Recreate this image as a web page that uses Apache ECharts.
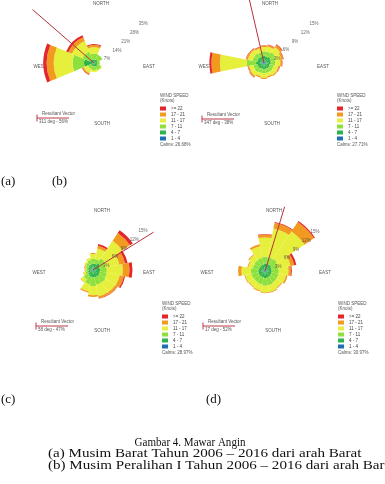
<!DOCTYPE html>
<html>
<head>
<meta charset="utf-8">
<script src="https://cdn.jsdelivr.net/npm/echarts@6/dist/echarts.min.js"></script>
<style>
html,body{margin:0;padding:0;background:#fff;}
#main{width:385px;height:484px;}
</style>
</head>
<body>
<div id="main"></div>
<script>
var dirs8 = ['N','NE','E','SE','S','SW','W','NW'];
var dirs16 = ['N','NNE','NE','ENE','E','ESE','SE','SSE','S','SSW','SW','WSW','W','WNW','NW','NNW'];
var speedNames = ['1 - 4','4 - 7','7 - 11','11 - 17','17 - 21','>= 22'];
var speedColors = ['#1f6fb5','#2db34a','#8ee03c','#e6f03c','#f29a1f','#e3262b'];

// (a) musim barat, 8 arah, persen
var a14   = [0.2,0.3,0.3,0.3,0.3,0.3,0.4,0.3];
var a47   = [1.8,1.9,1.4,1.8,1.7,1.5,5.3,2.2];
var a711  = [3.3,3.0,1.6,2.4,2.0,2.0,6.4,4.5];
var a1117 = [3.6,0,0,0.5,1.0,2.5,10.6,6.5];
var a1721 = [1.2,0,0,0,0,0.7,4.0,2.2];
var a22   = [0.6,0,0,0,0,0.3,1.9,1.3];

// (b) peralihan I
var b14   = [0.4,0.4,0.4,0.4,0.4,0.3,0.3,0.3,0.3,0.3,0.4,0.4,0.4,0.4,0.4,0.4];
var b47   = [1.3,1.2,1.4,1.3,1.2,1.1,1.2,1.1,1.2,1.1,1.2,1.2,1.5,1.3,1.3,1.2];
var b711  = [1.1,1.2,1.3,1.2,1.1,1.0,1.0,1.0,1.0,1.0,1.1,1.0,2.2,1.1,1.1,1.0];
var b1117 = [1.0,1.2,1.5,1.3,1.2,1.1,1.0,0.9,1.0,0.9,1.0,1.0,6.4,1.1,1.1,1.0];
var b1721 = [0.3,0.4,0.6,0.5,0.4,0.3,0.3,0.3,0.3,0.3,0.4,0.3,2.0,0.4,0.3,0.3];
var b22   = [0.1,0.1,0.2,0.1,0.1,0.1,0,0,0,0,0.1,0.1,0.5,0.1,0.1,0.1];

// (c)
var c14   = [0.3,0.3,0.4,0.3,0.3,0.3,0.3,0.3,0.3,0.3,0.2,0.2,0.2,0.2,0.2,0.2];
var c47   = [1.2,1.2,1.6,1.3,1.4,1.4,1.5,1.5,1.5,1.4,1.2,1.0,0.9,1.0,1.1,1.2];
var c711  = [1.2,1.2,1.4,1.5,1.6,1.7,1.8,1.8,2.0,1.8,1.3,0.7,0.5,0.6,0.8,1.0];
var c1117 = [1.3,2.5,5.0,3.3,3.8,3.1,2.8,2.8,2.2,1.7,0.8,0.4,0.2,0.2,0.4,0.6];
var c1721 = [0,0.7,2.2,1.4,1.6,1.0,0.6,0.5,0.4,0.3,0.1,0.1,0.2,0.2,0,0];
var c22   = [0,0.4,0.8,0.6,0.7,0.3,0.1,0.1,0,0,0,0,0,0,0,0];

// (d)
var d14   = [0.4,0.4,0.4,0.3,0.3,0.3,0.3,0.3,0.3,0.3,0.3,0.3,0.3,0.3,0.3,0.3];
var d47   = [1.4,1.4,1.4,1.3,1.3,1.3,1.3,1.4,1.4,1.3,1.3,1.3,1.3,1.2,1.2,1.3];
var d711  = [1.6,1.6,1.7,1.6,1.7,1.7,1.7,1.8,1.8,1.7,1.6,1.7,1.8,1.5,1.6,1.6];
var d1117 = [4.6,6.9,7.8,3.0,2.3,1.8,1.5,1.6,1.6,1.5,1.4,1.5,2.2,1.1,1.5,2.8];
var d1721 = [0.7,1.4,2.7,0.9,0.6,0.4,0.2,0.2,0.2,0.2,0.2,0.2,0.8,0.2,0.2,0.5];
var d22   = [0.1,0.2,0.3,0.5,0.2,0,0,0,0,0,0,0,0,0,0,0];

var ringsA = [7,14,21,28,35];
var ringsB = [3,6,9,12,15];
var calms = ['Calms: 26.68%','Calms: 27.71%','Calms: 28.97%','Calms: 30.97%'];
var vecDir = [311,347,58,17];
var vecLen = [46,16,17,16];
var vecText = ['311 deg - 56%','347 deg - 38%','58 deg - 47%','17 deg - 52%'];
var panelLabels = ['(a)','(b)','(c)','(d)'];

var panels = [
  {dirs:dirs8, data:[a14,a47,a711,a1117,a1721,a22], rings:ringsA, max:35, c:[94,63], r:62,
   north:[101,4], south:[102,124], west:[40,67], east:[149,67], leg:[160,106], vec:[37,118]},
  {dirs:dirs16, data:[b14,b47,b711,b1117,b1721,b22], rings:ringsB, max:15, c:[264,63], r:63,
   north:[270,4], south:[272,124], west:[205,67], east:[323,67], leg:[337,106], vec:[202,119]},
  {dirs:dirs16, data:[c14,c47,c711,c1117,c1721,c22], rings:ringsB, max:15, c:[93,270], r:63,
   north:[102,211], south:[102,331], west:[39,273], east:[149,273], leg:[162,314], vec:[36,326]},
  {dirs:dirs16, data:[d14,d47,d711,d1117,d1721,d22], rings:ringsB, max:15, c:[265,271], r:63,
   north:[274,211], south:[273,331], west:[207,273], east:[325,273], leg:[338,314], vec:[203,326]}
];

var tiny = {fontSize:4.5, fontFamily:'Liberation Sans', fill:'#555'};
function txt(x, y, s, align, extra, sx){
  var st = {text:s, align:align || 'center', verticalAlign:'middle'};
  for (var k in tiny) st[k] = tiny[k];
  if (extra) for (var k2 in extra) st[k2] = extra[k2];
  return {type:'text', x:x, y:y, scaleX:sx || 1, style:st, silent:true};
}

var hidden = {axisLine:{show:false}, axisTick:{show:false}, axisLabel:{show:false}, splitLine:{show:false}, splitArea:{show:false}};
function ax(o){ for (var k in hidden) o[k] = hidden[k]; return o; }

var option = {animation:false, polar:[], angleAxis:[], radiusAxis:[], series:[], legend:[], graphic:[]};

panels.forEach(function(p, i){
  var pi = 2*i;
  option.polar.push({center:p.c, radius:p.r});
  option.angleAxis.push(ax({polarIndex:pi, type:'category', data:p.dirs, startAngle:90 + 180/p.dirs.length, clockwise:true}));
  option.radiusAxis.push(ax({polarIndex:pi, type:'value', min:0, max:p.max}));
  // polar kedua untuk resultant vector
  option.polar.push({center:p.c, radius:p.r*2});
  option.angleAxis.push(ax({polarIndex:pi+1, type:'value', min:0, max:360, startAngle:90, clockwise:true}));
  option.radiusAxis.push(ax({polarIndex:pi+1, type:'value', min:0, max:p.max*2}));

  speedNames.forEach(function(name, k){
    option.series.push({type:'bar', name:name, coordinateSystem:'polar', polarIndex:pi, stack:'s'+i,
      data:p.data[k], barCategoryGap:'0%', silent:true, itemStyle:{color:speedColors[k]}});
  });
  var ne = p.dirs.indexOf('NE');
  option.series.push({type:'scatter', coordinateSystem:'polar', polarIndex:pi, symbolSize:0, silent:true,
    data:p.rings.map(function(v){ return [v, ne]; }),
    label:{show:true, position:'inside', align:'left', offset:[1,5], fontSize:4.5, fontFamily:'Liberation Sans', color:'#444',
      formatter:function(q){ return q.value[0] + '%'; }}});
  option.series.push({type:'line', coordinateSystem:'polar', polarIndex:pi+1, symbol:'none', silent:true,
    data:[[0, vecDir[i]],[vecLen[i], vecDir[i]]], lineStyle:{color:'#b5323f', width:1}});

  option.legend.push({left:p.leg[0], top:p.leg[1], orient:'vertical', padding:0, itemWidth:6, itemHeight:4, itemGap:1,
    icon:'rect', selectedMode:false, data:speedNames.slice().reverse(),
    textStyle:{fontSize:4.5, fontFamily:'Liberation Sans', color:'#444'}});

  option.graphic.push(txt(p.north[0], p.north[1], 'NORTH'));
  option.graphic.push(txt(p.south[0], p.south[1], 'SOUTH'));
  option.graphic.push(txt(p.west[0], p.west[1], 'WEST'));
  option.graphic.push(txt(p.east[0], p.east[1], 'EAST'));
  option.graphic.push(txt(p.leg[0], p.leg[1]-10, 'WIND SPEED', 'left'));
  option.graphic.push(txt(p.leg[0], p.leg[1]-5, '(Knots)', 'left'));
  option.graphic.push(txt(p.leg[0], p.leg[1]+39, calms[i], 'left'));
  var vx = p.vec[0], vy = p.vec[1];
  option.graphic.push(txt(vx+5, vy-4, 'Resultant Vector', 'left'));
  option.graphic.push(txt(vx+2, vy+4, vecText[i], 'left'));
  option.graphic.push({type:'line', silent:true, shape:{x1:vx, y1:vy, x2:vx+32, y2:vy}, style:{stroke:'#c0394a', lineWidth:1}});
  option.graphic.push({type:'line', silent:true, shape:{x1:vx, y1:vy-3.5, x2:vx, y2:vy+3.5}, style:{stroke:'#c0394a', lineWidth:1}});
});

var serif = {fontFamily:'Liberation Serif', fill:'#111'};
function cap(x, y, s, align, size, sx){
  return txt(x, y, s, align, {fontSize:size, fontFamily:serif.fontFamily, fill:serif.fill}, sx);
}
option.graphic.push(cap(1, 182, panelLabels[0], 'left', 13));
option.graphic.push(cap(52, 182, panelLabels[1], 'left', 13));
option.graphic.push(cap(1, 400, panelLabels[2], 'left', 13));
option.graphic.push(cap(206, 400, panelLabels[3], 'left', 13));
option.graphic.push(cap(190, 443, 'Gambar 4. Mawar Angin', 'center', 12, 0.92));
option.graphic.push(cap(48, 454, '(a) Musim Barat Tahun 2006 \u2013 2016 dari arah Barat', 'left', 13, 1.16));
option.graphic.push(cap(48, 465.5, '(b) Musim Peralihan I Tahun 2006 \u2013 2016 dari arah Barat', 'left', 13, 1.16));

var chart = echarts.init(document.getElementById('main'));
chart.setOption(option);
</script>
</body>
</html>
